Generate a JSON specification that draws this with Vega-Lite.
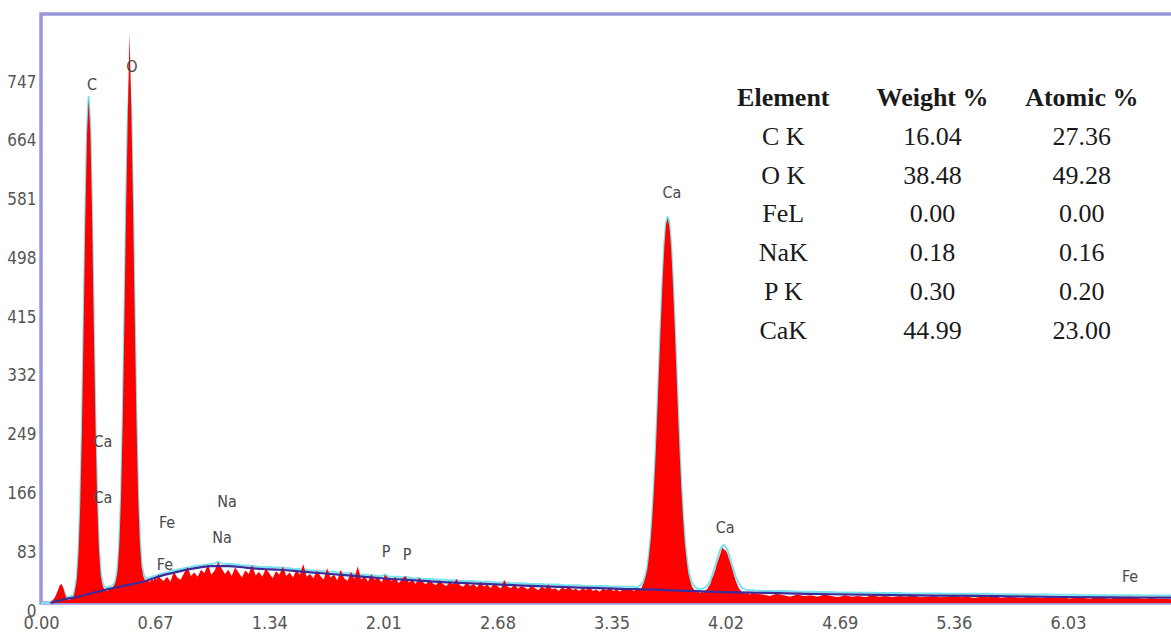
{
  "$schema": "https://vega.github.io/schema/vega-lite/v6.json",
  "width": 1132,
  "height": 589,
  "autosize": {"type": "none"},
  "padding": {"left": 41, "top": 14, "right": 0, "bottom": 36},
  "background": "#ffffff",
  "config": {
    "view": {"stroke": "#9a96de", "strokeWidth": 3.5},
    "axis": {"grid": false, "ticks": false, "domain": false, "title": null, "labelFont": "DejaVu Sans Condensed, DejaVu Sans, sans-serif", "labelColor": "#555555"}
  },
  "datasets": {
    "spectrum": [
      {"keV":0.00,"counts":0,"fit":0},{"keV":0.01,"counts":0,"fit":0},{"keV":0.02,"counts":0,"fit":0},{"keV":0.03,"counts":0,"fit":0},{"keV":0.04,"counts":0,"fit":0},
      {"keV":0.05,"counts":0,"fit":1},{"keV":0.06,"counts":2,"fit":2},{"keV":0.07,"counts":4,"fit":4},{"keV":0.08,"counts":7,"fit":6},{"keV":0.09,"counts":12,"fit":10},
      {"keV":0.10,"counts":18,"fit":15},{"keV":0.11,"counts":25,"fit":21},{"keV":0.12,"counts":27,"fit":24},{"keV":0.13,"counts":22,"fit":20},{"keV":0.14,"counts":13,"fit":13},
      {"keV":0.15,"counts":6,"fit":9},{"keV":0.16,"counts":4,"fit":8},{"keV":0.17,"counts":5,"fit":9},{"keV":0.18,"counts":6,"fit":10},{"keV":0.19,"counts":8,"fit":11},
      {"keV":0.20,"counts":18,"fit":20},{"keV":0.21,"counts":33,"fit":36},{"keV":0.22,"counts":68,"fit":71},{"keV":0.23,"counts":134,"fit":139},{"keV":0.24,"counts":241,"fit":247},
      {"keV":0.25,"counts":386,"fit":391},{"keV":0.26,"counts":540,"fit":547},{"keV":0.27,"counts":661,"fit":669},{"keV":0.28,"counts":712,"fit":716},{"keV":0.29,"counts":664,"fit":671},
      {"keV":0.30,"counts":546,"fit":549},{"keV":0.31,"counts":390,"fit":395},{"keV":0.32,"counts":249,"fit":252},{"keV":0.33,"counts":141,"fit":145},{"keV":0.34,"counts":76,"fit":79},
      {"keV":0.35,"counts":40,"fit":44},{"keV":0.36,"counts":26,"fit":30},{"keV":0.37,"counts":20,"fit":24},{"keV":0.38,"counts":18,"fit":22},{"keV":0.39,"counts":17,"fit":22},
      {"keV":0.40,"counts":19,"fit":23},{"keV":0.41,"counts":21,"fit":23},{"keV":0.42,"counts":22,"fit":25},{"keV":0.43,"counts":25,"fit":27},{"keV":0.44,"counts":31,"fit":34},
      {"keV":0.45,"counts":46,"fit":50},{"keV":0.46,"counts":82,"fit":86},{"keV":0.47,"counts":150,"fit":154},{"keV":0.48,"counts":259,"fit":264},{"keV":0.49,"counts":404,"fit":410},
      {"keV":0.50,"counts":561,"fit":568},{"keV":0.51,"counts":690,"fit":691},{"keV":0.52,"counts":805,"fit":739},{"keV":0.53,"counts":700,"fit":692},{"keV":0.54,"counts":566,"fit":570},
      {"keV":0.55,"counts":409,"fit":413},{"keV":0.56,"counts":262,"fit":268},{"keV":0.57,"counts":153,"fit":159},{"keV":0.58,"counts":87,"fit":92},{"keV":0.59,"counts":52,"fit":57},
      {"keV":0.60,"counts":38,"fit":42},{"keV":0.61,"counts":33,"fit":37},{"keV":0.62,"counts":30,"fit":35},{"keV":0.63,"counts":34,"fit":35},{"keV":0.64,"counts":29,"fit":36},
      {"keV":0.65,"counts":36,"fit":37},{"keV":0.66,"counts":31,"fit":38},{"keV":0.67,"counts":37,"fit":39},{"keV":0.68,"counts":33,"fit":39},{"keV":0.69,"counts":41,"fit":40},
      {"keV":0.70,"counts":35,"fit":41},
      {"keV":0.72,"counts":31,"fit":42},{"keV":0.74,"counts":37,"fit":43},{"keV":0.76,"counts":30,"fit":45},{"keV":0.78,"counts":44,"fit":46},{"keV":0.80,"counts":36,"fit":47},
      {"keV":0.82,"counts":33,"fit":48},{"keV":0.84,"counts":42,"fit":49},{"keV":0.86,"counts":51,"fit":50},{"keV":0.88,"counts":38,"fit":51},{"keV":0.90,"counts":43,"fit":52},
      {"keV":0.92,"counts":37,"fit":53},{"keV":0.94,"counts":47,"fit":53},{"keV":0.96,"counts":42,"fit":54},{"keV":0.98,"counts":55,"fit":54},{"keV":1.00,"counts":40,"fit":55},
      {"keV":1.02,"counts":46,"fit":56},{"keV":1.04,"counts":58,"fit":58},{"keV":1.06,"counts":49,"fit":56},{"keV":1.08,"counts":41,"fit":55},{"keV":1.10,"counts":47,"fit":55},
      {"keV":1.12,"counts":38,"fit":55},{"keV":1.14,"counts":50,"fit":54},{"keV":1.16,"counts":43,"fit":54},{"keV":1.18,"counts":36,"fit":53},{"keV":1.20,"counts":46,"fit":53},
      {"keV":1.22,"counts":41,"fit":53},{"keV":1.24,"counts":54,"fit":52},{"keV":1.26,"counts":39,"fit":52},{"keV":1.28,"counts":44,"fit":51},{"keV":1.30,"counts":37,"fit":51},
      {"keV":1.32,"counts":49,"fit":51},{"keV":1.34,"counts":42,"fit":51},{"keV":1.36,"counts":35,"fit":50},{"keV":1.38,"counts":45,"fit":50},{"keV":1.40,"counts":40,"fit":50},
      {"keV":1.42,"counts":52,"fit":49},{"keV":1.44,"counts":38,"fit":49},{"keV":1.46,"counts":43,"fit":49},{"keV":1.48,"counts":36,"fit":48},{"keV":1.50,"counts":47,"fit":48},
      {"keV":1.52,"counts":40,"fit":48},{"keV":1.54,"counts":55,"fit":47},{"keV":1.56,"counts":37,"fit":47},{"keV":1.58,"counts":41,"fit":46},{"keV":1.60,"counts":35,"fit":46},
      {"keV":1.62,"counts":46,"fit":46},{"keV":1.64,"counts":38,"fit":45},{"keV":1.66,"counts":33,"fit":45},{"keV":1.68,"counts":49,"fit":44},{"keV":1.70,"counts":36,"fit":44},
      {"keV":1.72,"counts":40,"fit":44},{"keV":1.74,"counts":32,"fit":43},{"keV":1.76,"counts":47,"fit":43},{"keV":1.78,"counts":35,"fit":42},{"keV":1.80,"counts":31,"fit":42},
      {"keV":1.82,"counts":44,"fit":42},{"keV":1.84,"counts":34,"fit":41},{"keV":1.86,"counts":52,"fit":41},{"keV":1.88,"counts":33,"fit":40},{"keV":1.90,"counts":38,"fit":40},
      {"keV":1.92,"counts":30,"fit":40},{"keV":1.94,"counts":41,"fit":39},{"keV":1.96,"counts":33,"fit":39},{"keV":1.98,"counts":36,"fit":38},{"keV":2.00,"counts":29,"fit":38},
      {"keV":2.02,"counts":40,"fit":40},{"keV":2.04,"counts":35,"fit":37},{"keV":2.06,"counts":31,"fit":37},{"keV":2.08,"counts":37,"fit":37},{"keV":2.10,"counts":28,"fit":37},
      {"keV":2.12,"counts":34,"fit":36},{"keV":2.14,"counts":38,"fit":37},{"keV":2.16,"counts":29,"fit":36},{"keV":2.18,"counts":33,"fit":35},{"keV":2.20,"counts":27,"fit":35},
      {"keV":2.22,"counts":36,"fit":35},{"keV":2.24,"counts":30,"fit":34},{"keV":2.26,"counts":26,"fit":34},{"keV":2.28,"counts":33,"fit":34},{"keV":2.30,"counts":28,"fit":34},
      {"keV":2.32,"counts":25,"fit":33},{"keV":2.34,"counts":32,"fit":33},{"keV":2.36,"counts":27,"fit":33},{"keV":2.38,"counts":24,"fit":32},{"keV":2.40,"counts":30,"fit":32},
      {"keV":2.42,"counts":26,"fit":32},{"keV":2.44,"counts":34,"fit":32},{"keV":2.46,"counts":25,"fit":31},{"keV":2.48,"counts":23,"fit":31},{"keV":2.50,"counts":29,"fit":31},
      {"keV":2.52,"counts":24,"fit":31},{"keV":2.54,"counts":27,"fit":31},{"keV":2.56,"counts":22,"fit":30},{"keV":2.58,"counts":30,"fit":30},{"keV":2.60,"counts":23,"fit":30},
      {"keV":2.62,"counts":26,"fit":30},{"keV":2.64,"counts":21,"fit":30},{"keV":2.66,"counts":28,"fit":29},{"keV":2.68,"counts":24,"fit":29},{"keV":2.70,"counts":20,"fit":29},
      {"keV":2.72,"counts":33,"fit":29},{"keV":2.74,"counts":23,"fit":29},{"keV":2.76,"counts":21,"fit":28},{"keV":2.78,"counts":26,"fit":28},{"keV":2.80,"counts":20,"fit":28},
      {"keV":2.82,"counts":24,"fit":28},{"keV":2.84,"counts":22,"fit":28},{"keV":2.86,"counts":19,"fit":27},{"keV":2.88,"counts":25,"fit":27},{"keV":2.90,"counts":21,"fit":27},
      {"keV":2.92,"counts":18,"fit":27},{"keV":2.94,"counts":23,"fit":27},{"keV":2.96,"counts":20,"fit":26},{"keV":2.98,"counts":26,"fit":26},{"keV":3.00,"counts":19,"fit":26},
      {"keV":3.02,"counts":21,"fit":26},{"keV":3.04,"counts":17,"fit":26},{"keV":3.06,"counts":22,"fit":25},{"keV":3.08,"counts":19,"fit":25},{"keV":3.10,"counts":24,"fit":25},
      {"keV":3.12,"counts":18,"fit":25},{"keV":3.14,"counts":20,"fit":25},{"keV":3.16,"counts":17,"fit":25},{"keV":3.18,"counts":21,"fit":24},{"keV":3.20,"counts":18,"fit":24},
      {"keV":3.22,"counts":23,"fit":24},{"keV":3.24,"counts":17,"fit":24},{"keV":3.26,"counts":19,"fit":24},{"keV":3.28,"counts":16,"fit":24},{"keV":3.30,"counts":20,"fit":24},
      {"keV":3.32,"counts":18,"fit":24},{"keV":3.34,"counts":22,"fit":23},{"keV":3.36,"counts":17,"fit":23},{"keV":3.38,"counts":19,"fit":23},{"keV":3.40,"counts":16,"fit":23},
      {"keV":3.42,"counts":21,"fit":23},{"keV":3.44,"counts":18,"fit":23},{"keV":3.46,"counts":20,"fit":23},{"keV":3.48,"counts":17,"fit":23},{"keV":3.50,"counts":19,"fit":22},
      {"keV":3.51,"counts":20,"fit":24},{"keV":3.52,"counts":18,"fit":25},{"keV":3.53,"counts":24,"fit":28},{"keV":3.54,"counts":29,"fit":32},{"keV":3.55,"counts":37,"fit":40},
      {"keV":3.56,"counts":47,"fit":51},{"keV":3.57,"counts":66,"fit":69},{"keV":3.58,"counts":89,"fit":93},{"keV":3.59,"counts":122,"fit":126},{"keV":3.60,"counts":165,"fit":168},
      {"keV":3.61,"counts":214,"fit":219},{"keV":3.62,"counts":274,"fit":278},{"keV":3.63,"counts":337,"fit":341},{"keV":3.64,"counts":398,"fit":403},{"keV":3.65,"counts":455,"fit":460},
      {"keV":3.66,"counts":503,"fit":507},{"keV":3.67,"counts":534,"fit":537},{"keV":3.68,"counts":544,"fit":546},{"keV":3.69,"counts":531,"fit":536},{"keV":3.70,"counts":502,"fit":506},
      {"keV":3.71,"counts":453,"fit":459},{"keV":3.72,"counts":397,"fit":402},{"keV":3.73,"counts":334,"fit":340},{"keV":3.74,"counts":271,"fit":277},{"keV":3.75,"counts":212,"fit":218},
      {"keV":3.76,"counts":161,"fit":167},{"keV":3.77,"counts":119,"fit":124},{"keV":3.78,"counts":85,"fit":91},{"keV":3.79,"counts":62,"fit":67},{"keV":3.80,"counts":43,"fit":49},
      {"keV":3.81,"counts":33,"fit":38},{"keV":3.82,"counts":25,"fit":30},{"keV":3.83,"counts":20,"fit":26},{"keV":3.84,"counts":18,"fit":23},{"keV":3.85,"counts":15,"fit":21},
      {"keV":3.86,"counts":17,"fit":19},{"keV":3.87,"counts":14,"fit":20},{"keV":3.88,"counts":16,"fit":20},{"keV":3.89,"counts":15,"fit":21},{"keV":3.90,"counts":18,"fit":22},
      {"keV":3.91,"counts":19,"fit":24},{"keV":3.92,"counts":23,"fit":27},{"keV":3.93,"counts":27,"fit":32},{"keV":3.94,"counts":34,"fit":38},{"keV":3.95,"counts":40,"fit":45},
      {"keV":3.96,"counts":47,"fit":53},{"keV":3.97,"counts":56,"fit":61},{"keV":3.98,"counts":63,"fit":69},{"keV":3.99,"counts":70,"fit":76},{"keV":4.00,"counts":78,"fit":80},
      {"keV":4.01,"counts":76,"fit":82},{"keV":4.02,"counts":74,"fit":79},{"keV":4.03,"counts":70,"fit":75},{"keV":4.04,"counts":62,"fit":68},{"keV":4.05,"counts":55,"fit":60},
      {"keV":4.06,"counts":47,"fit":52},{"keV":4.07,"counts":38,"fit":44},{"keV":4.08,"counts":31,"fit":37},{"keV":4.09,"counts":25,"fit":31},{"keV":4.10,"counts":20,"fit":27},
      {"keV":4.11,"counts":17,"fit":23},{"keV":4.12,"counts":14,"fit":21},{"keV":4.13,"counts":15,"fit":20},{"keV":4.14,"counts":13,"fit":19},{"keV":4.15,"counts":15,"fit":18},
      {"keV":4.16,"counts":12,"fit":18},{"keV":4.18,"counts":14,"fit":18},{"keV":4.20,"counts":13,"fit":17.5},
      {"keV":4.24,"counts":12,"fit":17},{"keV":4.28,"counts":10,"fit":17},{"keV":4.32,"counts":13,"fit":17},{"keV":4.36,"counts":11,"fit":17},{"keV":4.40,"counts":9,"fit":16.5},
      {"keV":4.44,"counts":12,"fit":16},{"keV":4.48,"counts":10,"fit":16},{"keV":4.52,"counts":11,"fit":16},{"keV":4.56,"counts":9,"fit":15.5},{"keV":4.60,"counts":12,"fit":15.5},
      {"keV":4.64,"counts":10,"fit":15.5},{"keV":4.68,"counts":8,"fit":15},{"keV":4.72,"counts":11,"fit":15},{"keV":4.76,"counts":9,"fit":15},{"keV":4.80,"counts":10,"fit":14.5},
      {"keV":4.84,"counts":8,"fit":14.5},{"keV":4.88,"counts":11,"fit":14.5},{"keV":4.92,"counts":9,"fit":14},{"keV":4.96,"counts":10,"fit":14},{"keV":5.00,"counts":8,"fit":14},
      {"keV":5.04,"counts":10,"fit":14},{"keV":5.08,"counts":9,"fit":13.5},{"keV":5.12,"counts":11,"fit":13.5},{"keV":5.16,"counts":8,"fit":13.5},{"keV":5.20,"counts":9,"fit":13.5},
      {"keV":5.24,"counts":10,"fit":13.5},{"keV":5.28,"counts":8,"fit":13.5},{"keV":5.32,"counts":9,"fit":13},{"keV":5.36,"counts":11,"fit":13},{"keV":5.40,"counts":8,"fit":13},
      {"keV":5.44,"counts":9,"fit":13},{"keV":5.48,"counts":7,"fit":13},{"keV":5.52,"counts":9,"fit":13},{"keV":5.56,"counts":8,"fit":13},{"keV":5.60,"counts":10,"fit":12.5},
      {"keV":5.64,"counts":7,"fit":12.5},{"keV":5.68,"counts":9,"fit":12.5},{"keV":5.72,"counts":8,"fit":12.5},{"keV":5.76,"counts":7,"fit":12},{"keV":5.80,"counts":9,"fit":12},
      {"keV":5.84,"counts":8,"fit":12},{"keV":5.88,"counts":7,"fit":12},{"keV":5.92,"counts":9,"fit":12},{"keV":5.96,"counts":7,"fit":11.5},{"keV":6.00,"counts":8,"fit":11.5},
      {"keV":6.04,"counts":6,"fit":11.5},{"keV":6.08,"counts":8,"fit":11.5},{"keV":6.12,"counts":7,"fit":11},{"keV":6.16,"counts":6,"fit":11},{"keV":6.20,"counts":8,"fit":11},
      {"keV":6.24,"counts":7,"fit":11},{"keV":6.28,"counts":6,"fit":11},{"keV":6.32,"counts":8,"fit":11},{"keV":6.36,"counts":8,"fit":11},{"keV":6.40,"counts":9,"fit":11},
      {"keV":6.44,"counts":7,"fit":11},{"keV":6.48,"counts":6,"fit":10.5},{"keV":6.52,"counts":7,"fit":10.5},{"keV":6.56,"counts":6,"fit":10.5},{"keV":6.60,"counts":6,"fit":10.5},
      {"keV":6.647,"counts":5,"fit":10.5}
    ],
    "background": [
      {"keV":0.06,"counts":0},{"keV":0.1,"counts":3},{"keV":0.2,"counts":8},{"keV":0.3,"counts":14},{"keV":0.4,"counts":20},
      {"keV":0.5,"counts":25},{"keV":0.6,"counts":30},{"keV":0.7,"counts":38},{"keV":0.8,"counts":44},{"keV":0.9,"counts":49},
      {"keV":1.0,"counts":52},{"keV":1.1,"counts":52},{"keV":1.2,"counts":50},{"keV":1.3,"counts":48},{"keV":1.4,"counts":47},
      {"keV":1.5,"counts":45},{"keV":1.6,"counts":43},{"keV":1.7,"counts":41},{"keV":1.8,"counts":39},{"keV":1.9,"counts":37},
      {"keV":2.0,"counts":35},{"keV":2.2,"counts":32},{"keV":2.4,"counts":29},{"keV":2.6,"counts":27},{"keV":2.8,"counts":25},
      {"keV":3.0,"counts":23},{"keV":3.2,"counts":21.5},{"keV":3.4,"counts":20},{"keV":3.6,"counts":19},{"keV":3.8,"counts":17},
      {"keV":4.0,"counts":15.5},{"keV":4.2,"counts":14.5},{"keV":4.5,"counts":13},{"keV":5.0,"counts":11},{"keV":5.5,"counts":10},
      {"keV":6.0,"counts":8.5},{"keV":6.3,"counts":8},{"keV":6.647,"counts":7.5}
    ],
    "peaks": [
      {"label":"C","keV":0.30,"counts":732},
      {"label":"O","keV":0.534,"counts":757},
      {"label":"Ca","keV":0.364,"counts":227},
      {"label":"Ca","keV":0.364,"counts":148},
      {"label":"Fe","keV":0.74,"counts":113},
      {"label":"Fe","keV":0.728,"counts":54},
      {"label":"Na","keV":1.092,"counts":143},
      {"label":"Na","keV":1.063,"counts":92},
      {"label":"P","keV":2.026,"counts":72},
      {"label":"P","keV":2.149,"counts":68},
      {"label":"Ca","keV":3.705,"counts":579},
      {"label":"Ca","keV":4.017,"counts":106},
      {"label":"Fe","keV":6.395,"counts":37}
    ],
    "heads": [
      {"col":0,"title":"Element"},
      {"col":1,"title":"Weight %"},
      {"col":2,"title":"Atomic %"}
    ],
    "quant": [
      {"row":1,"element":"C K","weight":16.04,"atomic":27.36},
      {"row":2,"element":"O K","weight":38.48,"atomic":49.28},
      {"row":3,"element":"FeL","weight":0.00,"atomic":0.00},
      {"row":4,"element":"NaK","weight":0.18,"atomic":0.16},
      {"row":5,"element":"P K","weight":0.30,"atomic":0.20},
      {"row":6,"element":"CaK","weight":44.99,"atomic":23.00}
    ]
  },
  "layer": [
    {
      "encoding": {
        "x": {
          "field": "keV", "type": "quantitative",
          "scale": {"domain": [0, 6.647], "nice": false, "zero": false},
          "axis": {"values": [0, 0.67, 1.34, 2.01, 2.68, 3.35, 4.02, 4.69, 5.36, 6.03], "format": ".2f", "labelFontSize": 18, "labelPadding": 11, "labelFlush": false}
        },
        "y": {
          "field": "counts", "type": "quantitative",
          "scale": {"domain": [0, 832], "nice": false, "zero": false},
          "axis": {"values": [0, 83, 166, 249, 332, 415, 498, 581, 664, 747], "labelFontSize": 17, "labelPadding": 5, "labelOffset": 8}
        }
      },
      "layer": [
        {
          "data": {"name": "spectrum"},
          "mark": {"type": "line", "color": "#76e3ee", "strokeWidth": 2},
          "encoding": {
            "y": {
              "field": "fit", "type": "quantitative",
              "scale": {"domain": [0, 832], "nice": false, "zero": false},
              "axis": {"values": [0, 83, 166, 249, 332, 415, 498, 581, 664, 747], "labelFontSize": 17, "labelPadding": 5, "labelOffset": 8}
            }
          }
        },
        {
          "data": {"name": "spectrum"},
          "mark": {"type": "area", "color": "#ff0000"}
        },
        {
          "data": {"name": "background"},
          "mark": {"type": "line", "color": "#3d2b98", "strokeWidth": 2.2, "interpolate": "monotone"}
        },
        {
          "data": {"name": "peaks"},
          "mark": {"type": "text", "font": "DejaVu Sans Condensed, DejaVu Sans, sans-serif", "fontSize": 16, "color": "#4a4a4a"},
          "encoding": {"text": {"field": "label"}}
        }
      ]
    },
    {
      "layer": [
        {
          "data": {"name": "heads"},
          "mark": {"type": "text", "font": "Liberation Serif", "fontSize": 26, "fontWeight": "bold", "color": "#1a1a1a"},
          "encoding": {
            "x": {"field": "col", "type": "quantitative", "scale": {"domain": [-4.973, 2.611], "nice": false, "zero": false}, "axis": null},
            "y": {"datum": 0, "type": "quantitative", "scale": {"domain": [-2.163, 13.006], "nice": false, "zero": false, "reverse": true}, "axis": null},
            "text": {"field": "title"}
          }
        },
        {
          "data": {"name": "quant"},
          "mark": {"type": "text", "font": "Liberation Serif", "fontSize": 26, "color": "#1a1a1a"},
          "encoding": {
            "x": {"datum": 0, "type": "quantitative", "scale": {"domain": [-4.973, 2.611], "nice": false, "zero": false}, "axis": null},
            "y": {"field": "row", "type": "quantitative", "scale": {"domain": [-2.163, 13.006], "nice": false, "zero": false, "reverse": true}, "axis": null},
            "text": {"field": "element"}
          }
        },
        {
          "data": {"name": "quant"},
          "mark": {"type": "text", "font": "Liberation Serif", "fontSize": 26, "color": "#1a1a1a"},
          "encoding": {
            "x": {"datum": 1, "type": "quantitative", "scale": {"domain": [-4.973, 2.611], "nice": false, "zero": false}, "axis": null},
            "y": {"field": "row", "type": "quantitative", "scale": {"domain": [-2.163, 13.006], "nice": false, "zero": false, "reverse": true}, "axis": null},
            "text": {"field": "weight", "format": ".2f"}
          }
        },
        {
          "data": {"name": "quant"},
          "mark": {"type": "text", "font": "Liberation Serif", "fontSize": 26, "color": "#1a1a1a"},
          "encoding": {
            "x": {"datum": 2, "type": "quantitative", "scale": {"domain": [-4.973, 2.611], "nice": false, "zero": false}, "axis": null},
            "y": {"field": "row", "type": "quantitative", "scale": {"domain": [-2.163, 13.006], "nice": false, "zero": false, "reverse": true}, "axis": null},
            "text": {"field": "atomic", "format": ".2f"}
          }
        }
      ]
    }
  ],
  "resolve": {"scale": {"x": "independent", "y": "independent"}}
}
